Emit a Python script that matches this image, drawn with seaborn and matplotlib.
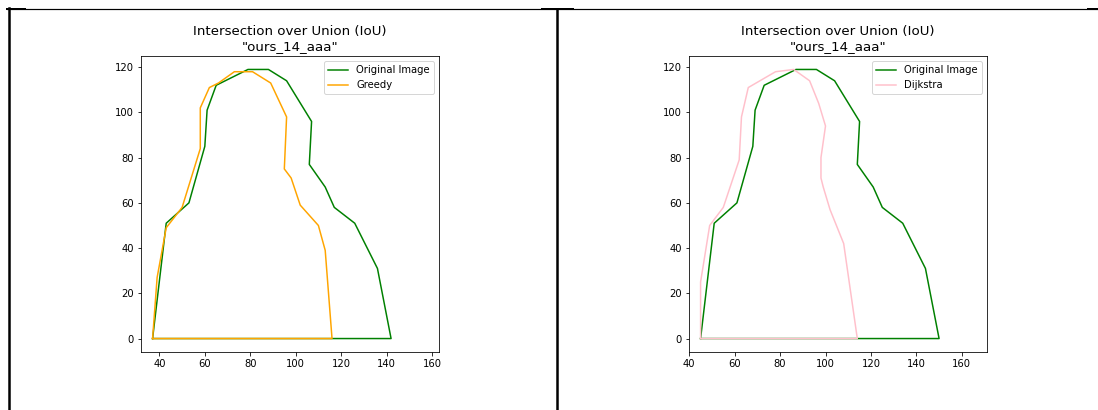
import matplotlib
matplotlib.use("Agg")
import matplotlib.pyplot as plt
from matplotlib.lines import Line2D
import pandas as pd
import seaborn as sns

# Contour of the original mask (left panel) and the same contour shifted right (right panel)
orig_left_x = [37, 43, 53, 60, 61, 65, 79, 88, 96, 107, 106, 113, 117, 126, 136, 142, 37]
orig_left_y = [0, 51, 60, 85, 101, 112, 119, 119, 114, 96, 77, 67, 58, 51, 31, 0, 0]

greedy_x = [37, 39, 43, 50, 58, 58, 62, 66, 73, 81, 89, 96, 95, 98, 102, 110, 113, 116, 37]
greedy_y = [0, 27, 49, 58, 84, 102, 111, 113, 118, 118, 113, 98, 75, 71, 59, 50, 39, 0, 0]

orig_right_x = [45, 51, 61, 68, 69, 73, 87, 96, 104, 115, 114, 121, 125, 134, 144, 150, 45]
orig_right_y = [0, 51, 60, 85, 101, 112, 119, 119, 114, 96, 77, 67, 58, 51, 31, 0, 0]

dijkstra_x = [45, 45, 49, 55, 62, 63, 66, 78, 86, 93, 97, 100, 98, 98, 99, 102, 108, 114, 45]
dijkstra_y = [0, 25, 50, 58, 79, 98, 111, 118, 119, 114, 104, 94, 80, 71, 67, 57, 42, 0, 0]

title_text = 'Intersection over Union (IoU)\n"ours_14_aaa"'
x_ticks = [40, 60, 80, 100, 120, 140, 160]
y_ticks = [0, 20, 40, 60, 80, 100, 120]

W, H, DPI = 1098, 410, 72
fig = plt.figure(figsize=(W / DPI, H / DPI), dpi=DPI)
fig.patch.set_facecolor("white")


def px_axes(x0, y_top, w, h):
    return [x0 / W, (H - y_top - h) / H, w / W, h / H]


panels = [
    (px_axes(141, 56, 298, 296), (orig_left_x, orig_left_y),
     (greedy_x, greedy_y), "Greedy", "orange", (31.9, 163.1)),
    (px_axes(689, 56, 298, 296), (orig_right_x, orig_right_y),
     (dijkstra_x, dijkstra_y), "Dijkstra", "pink", (39.9, 171.1)),
]

for rect, (ox, oy), (px, py), name, color, xlim in panels:
    ax = fig.add_axes(rect)
    df_o = pd.DataFrame({"x": ox, "y": oy})
    df_p = pd.DataFrame({"x": px, "y": py})
    sns.lineplot(data=df_o, x="x", y="y", sort=False, estimator=None,
                 color="green", linewidth=1.5, label="Original Image", ax=ax)
    sns.lineplot(data=df_p, x="x", y="y", sort=False, estimator=None,
                 color=color, linewidth=1.5, label=name, ax=ax)
    ax.set_xlim(*xlim)
    ax.set_ylim(-5.95, 124.95)
    ax.set_xticks(x_ticks)
    ax.set_yticks(y_ticks)
    ax.set_xlabel("")
    ax.set_ylabel("")
    ax.set_title(title_text, fontsize=13.4)
    ax.tick_params(labelsize=10)
    ax.legend(loc="upper right", fontsize=10)

# Page frame lines around the two panels
frame = [
    ((7, 1098), (8.5, 8.5), 1.2),
    ((7, 25), (9, 9), 2),
    ((542, 573), (9, 9), 2),
    ((1088, 1098), (9, 9), 2),
    ((8.7, 8.7), (8, 410), 2.5),
    ((557.3, 557.3), (9, 410), 2.5),
]
for xs, ys, lw in frame:
    fig.add_artist(Line2D([x / W for x in xs], [1 - y / H for y in ys],
                          color="black", linewidth=lw,
                          transform=fig.transFigure))

fig.savefig("out.png", dpi=DPI)
